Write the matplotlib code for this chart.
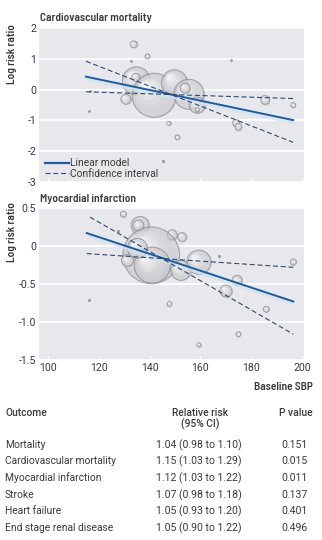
import matplotlib
matplotlib.use("Agg")
import matplotlib.pyplot as plt
from matplotlib.transforms import ScaledTranslation
from matplotlib.lines import Line2D
import numpy as np

plt.rcParams["font.family"] = ["Roboto", "DejaVu Sans"]
plt.rcParams["axes.unicode_minus"] = False
HEAD_FAMILY = ["Barlow Semi Condensed", "Roboto", "DejaVu Sans"]

# ---- Cardiovascular mortality: study estimates (baseline SBP, log RR, weight)
cv_sbp = [133.7, 139.2, 132.9, 172.2, 116.5, 116.1, 134.8, 134.5, 130.6, 137.6,
          141.7, 149.8, 155.4, 154.0, 158.7, 158.8, 147.5, 151.0, 145.5, 185.5,
          196.5, 174.0, 175.0]
cv_lrr = [1.47, 1.08, 0.92, 0.95, -0.05, -0.70, 0.29, 0.40, -0.31, 0.05,
          -0.18, 0.23, -0.15, 0.05, -0.50, -0.65, -1.10, -1.55, -2.33, -0.33,
          -0.50, -1.08, -1.20]
cv_weight = [12, 6, 1.5, 1.5, 1.5, 1.5, 196, 16, 25, 64,
             484, 169, 225, 25, 64, 4, 4, 6, 2, 20,
             6, 12, 12]
cv_fit_x = [115.0, 196.5]
cv_fit_y = [0.42, -0.99]
cv_ci_hi = [0.92, -1.71]
cv_ci_lo = [-0.07, -0.29]

# ---- Myocardial infarction
mi_sbp = [129.7, 136.2, 135.6, 127.6, 148.9, 152.8, 140.6, 141.0, 131.3, 135.2,
          152.2, 159.3, 167.2, 196.6, 174.4, 170.0, 116.2, 147.8, 185.9, 175.0,
          159.3]
mi_lrr = [0.42, 0.27, 0.27, 0.20, 0.15, 0.12, -0.12, -0.25, -0.19, -0.03,
          -0.32, -0.21, -0.13, -0.21, -0.45, -0.59, -0.71, -0.76, -0.83, -1.16,
          -1.30]
mi_weight = [9, 81, 30, 2, 25, 20, 800, 324, 36, 100,
             100, 144, 2, 9, 25, 36, 2, 6, 9, 6,
             4]
mi_fit_x = [115.3, 196.6]
mi_fit_y = [0.17, -0.73]
mi_ci_x = [116.6, 196.6]
mi_ci_hi = [0.38, -1.16]
mi_ci_lo = [-0.10, -0.28]

# ---- Summary table
outcomes = ["Mortality", "Cardiovascular mortality", "Myocardial infarction",
            "Stroke", "Heart failure", "End stage renal disease"]
rel_risk = ["1.04 (0.98 to 1.10)", "1.15 (1.03 to 1.29)", "1.12 (1.03 to 1.22)",
            "1.07 (0.98 to 1.18)", "1.05 (0.93 to 1.20)", "1.05 (0.90 to 1.22)"]
p_values = ["0.151", "0.015", "0.011", "0.137", "0.401", "0.496"]

W, H = 322, 540
fig = plt.figure(figsize=(W / 100, H / 100), dpi=100)
fig.patch.set_facecolor("white")
renderer = fig.canvas.get_renderer()


def fit_size(text, width_px, weight="normal", family=None, base=10.0):
    """Font size at which `text` spans `width_px` pixels."""
    kw = {"family": family} if family else {}
    t = fig.text(0, 0, text, fontsize=base, fontweight=weight, **kw)
    w = t.get_window_extent(renderer).width
    t.remove()
    return base * width_px / w


FS = fit_size("Cardiovascular mortality", 111)
FS_NUM = fit_size("1.04 (0.98 to 1.10)", 86)
FS_T = fit_size("Cardiovascular mortality", 112, "semibold", HEAD_FAMILY)
FS_Y = fit_size("Log risk ratio", 60, "semibold", HEAD_FAMILY)

BG = "#e8e8ec"
TXT = "#3a3a3a"
LINE = "#1f5c9c"
DASH = "#2c4a70"


def px_axes(l, t, r, b):
    return fig.add_axes([l / W, 1 - b / H, (r - l) / W, (b - t) / H])


def bubbles(ax, xs, ys, ws):
    for x, y, w in zip(xs, ys, ws):
        r = np.sqrt(w)  # radius in pixels
        if r < 1.6:
            ax.scatter([x], [y], s=(2 * r * 0.72) ** 2 + 1, color="#9c9ca0",
                       lw=0, zorder=2)
            continue
        d_pt = 2 * r * 0.72
        ax.scatter([x], [y], s=d_pt ** 2, facecolor="#c4c4c8",
                   edgecolor="#8f8f94", lw=0.6, alpha=0.55, zorder=2)
        n = 6
        for k in range(1, n + 1):
            frac = 1 - k / (n + 1.5)
            rk = r * frac
            off = (r - rk) * 0.5 / 100.0
            tr = ax.transData + ScaledTranslation(-off, off, fig.dpi_scale_trans)
            c = np.array([0.80, 0.80, 0.82]) + (np.array([1, 1, 1]) - np.array([0.80, 0.80, 0.82])) * k / n
            ax.scatter([x], [y], s=(2 * rk * 0.72) ** 2, color=tuple(c),
                       lw=0, alpha=0.4, zorder=2, transform=tr)
        ax.scatter([x], [y], s=d_pt ** 2, facecolor="none",
                   edgecolor="#8f8f94", lw=0.5, alpha=0.8, zorder=2)


def style(ax, ylim, yticks, ylabels):
    ax.set_facecolor(BG)
    for s in ax.spines.values():
        s.set_visible(False)
    ax.set_xlim(96.5, 200.8)
    ax.set_ylim(*ylim)
    ax.set_yticks(yticks)
    ax.set_yticklabels(ylabels)
    ax.set_xticks([100, 120, 140, 160, 180, 200])
    ax.grid(axis="y", color="white", lw=1.2, zorder=1)
    ax.set_axisbelow(True)
    ax.tick_params(axis="y", length=0, pad=2, labelsize=FS_NUM, labelcolor=TXT)
    ax.tick_params(axis="x", direction="in", length=3, color="white", width=1,
                   labelsize=FS_NUM, labelcolor=TXT, pad=2)


# Top panel: cardiovascular mortality
ax1 = px_axes(39, 28, 304, 182)
style(ax1, (-3, 2), [-3, -2, -1, 0, 1, 2], ["-3", "-2", "-1", "0", "1", "2"])
ax1.set_xticklabels([])
bubbles(ax1, cv_sbp, cv_lrr, cv_weight)
fx = np.array(cv_fit_x)
fy = np.array(cv_fit_y)
ax1.fill_between(fx, fy - 0.12, fy + 0.03, color="#cfe5f5", alpha=0.7, lw=0, zorder=3)
ax1.plot(fx, fy, color=LINE, lw=1.4, zorder=4)
ax1.plot(fx, cv_ci_hi, color=DASH, lw=0.8, ls=(0, (4.5, 2.5)), zorder=4)
ax1.plot(fx, cv_ci_lo, color=DASH, lw=0.8, ls=(0, (4.5, 2.5)), zorder=4)
handles = [Line2D([], [], color=LINE, lw=1.6),
           Line2D([], [], color=DASH, lw=0.8, ls=(0, (4.5, 2.5)))]
ax1.legend(handles, ["Linear model", "Confidence interval"], loc="lower left",
           frameon=False, fontsize=FS, handlelength=2.3, handletextpad=0.15,
           labelspacing=0.05, borderaxespad=0.2, labelcolor=TXT,
           bbox_to_anchor=(0.0, -0.02))
fig.text(40 / W, 1 - 18 / H, "Cardiovascular mortality", fontsize=FS_T,
         fontweight="semibold", family=HEAD_FAMILY, color=TXT, va="center", ha="left")
fig.text(12 / W, 1 - 24 / H, "Log risk ratio", rotation=90, fontsize=FS_Y,
         fontweight="semibold", family=HEAD_FAMILY, color=TXT, va="top", ha="center")

# Bottom panel: myocardial infarction
ax2 = px_axes(39, 208, 304, 360)
style(ax2, (-1.5, 0.5), [-1.5, -1.0, -0.5, 0, 0.5],
      ["-1.5", "-1.0", "-0.5", "0", "0.5"])
bubbles(ax2, mi_sbp, mi_lrr, mi_weight)
fx = np.array(mi_fit_x)
fy = np.array(mi_fit_y)
ax2.fill_between(fx, fy - 0.05, fy + 0.015, color="#cfe5f5", alpha=0.7, lw=0, zorder=3)
ax2.plot(fx, fy, color=LINE, lw=1.4, zorder=4)
ax2.plot(mi_ci_x, mi_ci_hi, color=DASH, lw=0.8, ls=(0, (4.5, 2.5)), zorder=4)
ax2.plot(fx, mi_ci_lo, color=DASH, lw=0.8, ls=(0, (4.5, 2.5)), zorder=4)
fig.text(40 / W, 1 - 199 / H, "Myocardial infarction", fontsize=FS_T,
         fontweight="semibold", family=HEAD_FAMILY, color=TXT, va="center", ha="left")
fig.text(12 / W, 1 - 202 / H, "Log risk ratio", rotation=90, fontsize=FS_Y,
         fontweight="semibold", family=HEAD_FAMILY, color=TXT, va="top", ha="center")
fig.text(313 / W, 1 - 387 / H, "Baseline SBP", fontsize=FS_Y, fontweight="semibold",
         family=HEAD_FAMILY, color=TXT, va="center", ha="right")

# Summary table
fig.text(5 / W, 1 - 413 / H, "Outcome", fontsize=FS, fontweight="medium",
         color=TXT, va="center", ha="left")
fig.text(200 / W, 1 - 413 / H, "Relative risk", fontsize=FS, fontweight="medium",
         color=TXT, va="center", ha="center")
fig.text(200 / W, 1 - 424 / H, "(95% CI)", fontsize=FS, fontweight="medium",
         color=TXT, va="center", ha="center")
fig.text(296 / W, 1 - 413 / H, "P value", fontsize=FS, fontweight="medium",
         color=TXT, va="center", ha="center")
row_y = [445, 461, 478, 495, 511, 528]
for yy, o, rr, p in zip(row_y, outcomes, rel_risk, p_values):
    fig.text(5 / W, 1 - yy / H, o, fontsize=FS, color=TXT, va="center", ha="left")
    fig.text(199 / W, 1 - yy / H, rr, fontsize=FS_NUM, color=TXT, va="center", ha="center")
    fig.text(295 / W, 1 - yy / H, p, fontsize=FS_NUM, color=TXT, va="center", ha="center")

fig.savefig("out.png", dpi=100)
